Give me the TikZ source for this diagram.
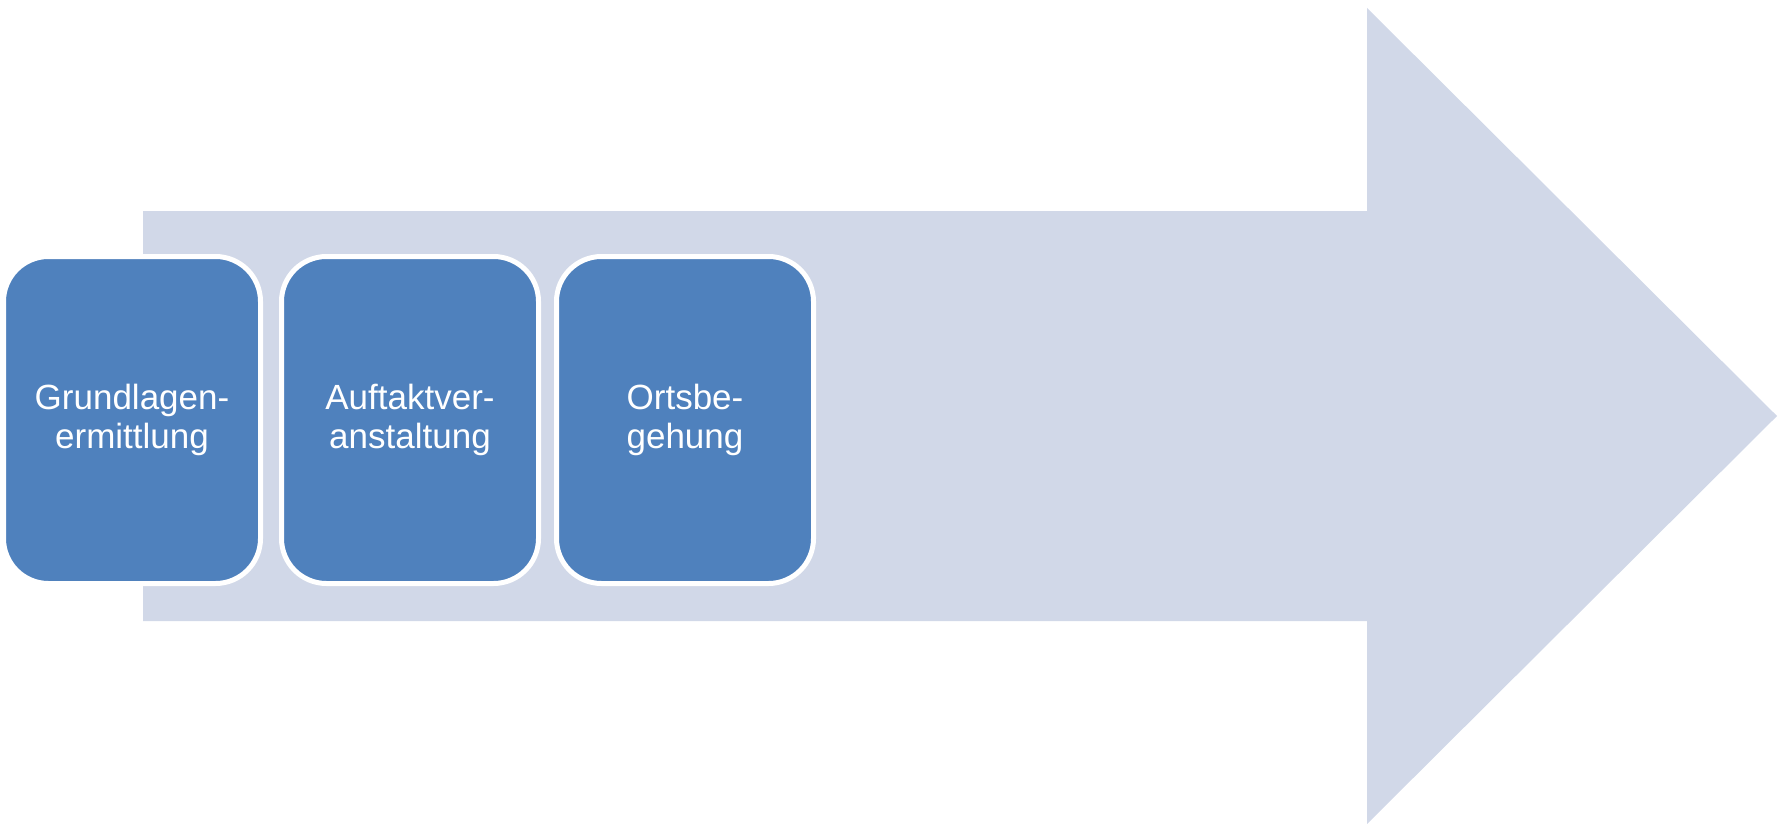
\documentclass[tikz,border=0pt]{standalone}
\usepackage{fontspec}
\setmainfont{Liberation Sans}
\definecolor{arrowfill}{HTML}{D1D8E8}
\definecolor{boxfill}{HTML}{4F81BD}
\begin{document}
\begin{tikzpicture}[x=1pt,y=-1pt,
  stagebox/.style={draw=white,line width=5pt,fill=boxfill,rounded corners=45pt,
    minimum width=257pt,minimum height=327pt,inner sep=0pt,align=center,
    text=white,font=\fontsize{35}{39}\selectfont}]
\useasboundingbox (0,0) rectangle (1783,824);
\fill[arrowfill] (143,211) -- (1367,211) -- (1367,8) -- (1777,416) -- (1367,824) -- (1367,621) -- (143,621) -- cycle;
\node[stagebox] (s1) at (132,420) {Grundlagen-\\ermittlung};
\node[stagebox] (s2) at (410,420) {Auftaktver-\\anstaltung};
\node[stagebox] (s3) at (685,420) {Ortsbe-\\gehung};
\end{tikzpicture}
\end{document}
